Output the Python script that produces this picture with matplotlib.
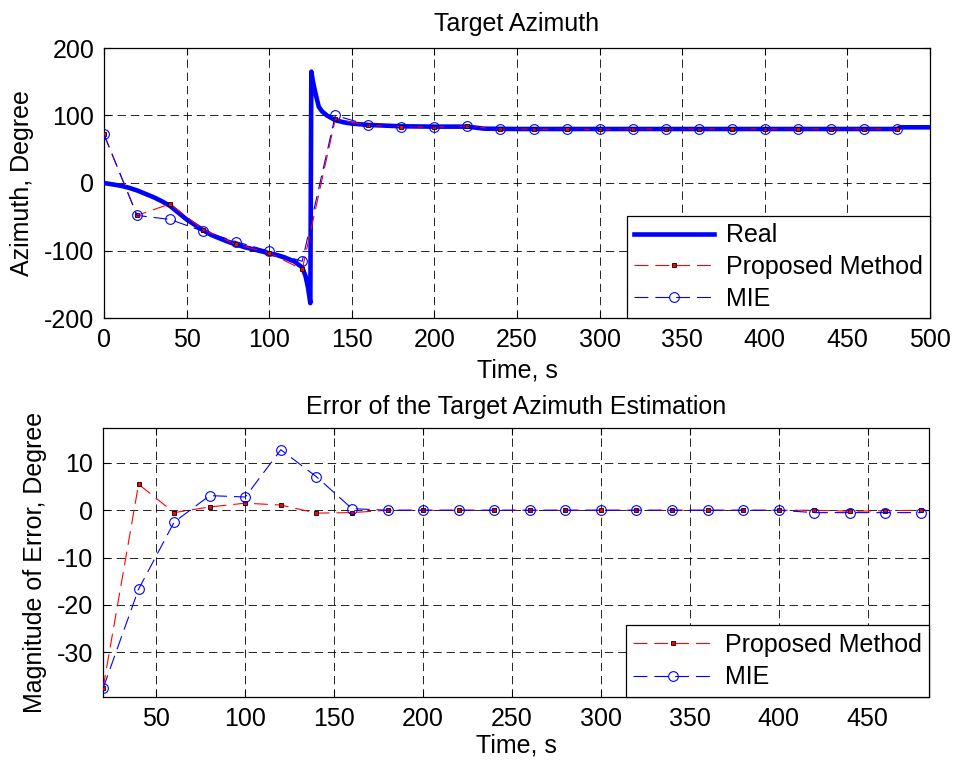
import matplotlib
matplotlib.use("Agg")
import matplotlib.pyplot as plt
import numpy as np

plt.rcParams['font.family'] = ['Liberation Sans', 'DejaVu Sans']
plt.rcParams['font.size'] = 18
plt.rcParams['lines.scale_dashes'] = False
plt.rcParams['axes.unicode_minus'] = False

# ---------------- data ----------------
t_est = [0, 20, 40, 60, 80, 100, 120, 140, 160, 180, 200, 220, 240, 260, 280,
         300, 320, 340, 360, 380, 400, 420, 440, 460, 480]
az_prop = [72, -48, -31, -69, -91, -103.5, -128, 94.5, 85.5, 83, 83, 84, 79.5,
           80, 79.5, 79.5, 80, 80, 80, 80, 80, 80, 80, 80, 80]
az_mie = [72, -48, -54, -71.5, -87, -101, -116, 100, 86, 83, 83, 84, 79.5,
          80, 79.5, 79.5, 80, 80, 80, 80, 80, 80, 80, 80, 80]

real_t = [0, 5, 10, 15, 20, 25, 30, 35, 40, 45, 50, 55, 60, 65, 70, 75, 80, 85,
          90, 95, 100, 105, 110, 115, 120, 122, 123.5, 124.9, 125.5, 126.5, 128,
          130, 132, 135, 140, 145, 150, 160, 170, 180, 200, 220, 225, 230, 250,
          300, 350, 400, 450, 480, 482, 500]
real_az = [0, -2, -4, -7, -11, -16, -21, -27, -34, -44, -54, -62, -70, -77, -82,
           -87, -91, -95, -98, -101, -104, -107, -111, -116, -125, -138, -155,
           -178, 165, 150, 133, 113, 106, 100, 93, 90, 88, 86, 85, 84, 83.5, 83.5,
           82, 80.5, 80, 80, 80, 80, 80, 80, 82.5, 82.5]

t_err = [20, 40, 60, 80, 100, 120, 140, 160, 180, 200, 220, 240, 260, 280, 300,
         320, 340, 360, 380, 400, 420, 440, 460, 480]
err_prop = [-37.7, 5.5, -0.5, 0.7, 1.5, 1.1, -0.6, -0.5, 0, 0, 0, 0, 0, 0, 0,
            0, 0, 0, 0, 0, 0, -0.2, -0.1, 0]
err_mie = [-37.7, -16.7, -2.5, 3.1, 2.8, 12.8, 7.1, 0.35, 0, 0, 0, 0, 0, 0, 0,
           0, 0, 0, 0, 0, -0.5, -0.5, -0.5, -0.5]

top_xticks = [0, 50, 100, 150, 200, 250, 300, 350, 400, 450, 500]
top_yticks = [-200, -100, 0, 100, 200]
bot_xticks = [50, 100, 150, 200, 250, 300, 350, 400, 450]
bot_yticks = [-30, -20, -10, 0, 10]

# ---------------- figure ----------------
fig = plt.figure(figsize=(9.54, 7.63), dpi=100)
ax1 = fig.add_axes([104/954, 1-318/763, 826/954, 270/763])
ax2 = fig.add_axes([103/954, 1-697/763, 826/954, 269/763])

dash = (0, (10, 5))
grid_dash = (0, (6, 3.5))
FS = 18

def style(ax):
    ax.tick_params(direction='in', length=5, width=0.8, top=True, right=True,
                   pad=7, labelsize=FS)
    for s in ax.spines.values():
        s.set_linewidth(0.9)
    ax.grid(True, color='black', linestyle=grid_dash, linewidth=0.6)
    ax.set_axisbelow(True)

# top
ax1.plot(real_t, real_az, color=(0, 0, 1), linewidth=3.3, label='Real', zorder=3)
ax1.plot(t_est, az_prop, color='red', linestyle=dash, linewidth=0.8,
         marker='s', markersize=3.5, markerfacecolor='red',
         markeredgecolor='black', markeredgewidth=0.6,
         label='Proposed Method', zorder=4)
ax1.plot(t_est, az_mie, color=(0, 0, 1), linestyle=dash, linewidth=0.8,
         marker='o', markersize=7, markerfacecolor='none',
         markeredgecolor=(0, 0, 1), markeredgewidth=0.8,
         label='MIE', zorder=4)
ax1.set_xlim(0, 500)
ax1.set_ylim(-200, 200)
ax1.set_xticks(top_xticks)
ax1.set_yticks(top_yticks)
style(ax1)
ax1.set_title('Target Azimuth', fontsize=FS, pad=12)
ax1.set_xlabel('Time, s', fontsize=FS)
ax1.set_ylabel('Azimuth, Degree', fontsize=FS)
ax1.xaxis.label.set_va('center')
ax1.yaxis.label.set_va('center')
ax1.xaxis.set_label_coords(0.5, (318-370)/270)
ax1.yaxis.set_label_coords((22-104)/826, 0.5)
leg1 = ax1.legend(loc='lower right', borderaxespad=0, fancybox=False,
                  edgecolor='black', framealpha=1, handlelength=3.2,
                  handletextpad=0.45, labelspacing=0.3, borderpad=0.3,
                  fontsize=FS)
leg1.get_frame().set_linewidth(0.9)

# bottom
ax2.plot(t_err, err_prop, color='red', linestyle=dash, linewidth=0.8,
         marker='s', markersize=3.5, markerfacecolor='red',
         markeredgecolor='black', markeredgewidth=0.6,
         label='Proposed Method', zorder=4)
ax2.plot(t_err, err_mie, color=(0, 0, 1), linestyle=dash, linewidth=0.8,
         marker='o', markersize=7, markerfacecolor='none',
         markeredgecolor=(0, 0, 1), markeredgewidth=0.8,
         label='MIE', zorder=4)
ax2.set_xlim(20, 484.5)
ax2.set_ylim(-39.5, 17.4)
ax2.set_xticks(bot_xticks)
ax2.set_yticks(bot_yticks)
style(ax2)
ax2.set_title('Error of the Target Azimuth Estimation', fontsize=FS, pad=10)
ax2.set_xlabel('Time, s', fontsize=FS)
ax2.set_ylabel('Magnitude of Error, Degree', fontsize=FS)
ax2.xaxis.label.set_va('center')
ax2.yaxis.label.set_va('center')
ax2.xaxis.set_label_coords(0.5, (697-745)/269)
ax2.yaxis.set_label_coords((35-103)/826, 0.5)
leg2 = ax2.legend(loc='lower right', borderaxespad=0, fancybox=False,
                  edgecolor='black', framealpha=1, handlelength=3.2,
                  handletextpad=0.45, labelspacing=0.35, borderpad=0.3,
                  fontsize=FS)
leg2.get_frame().set_linewidth(0.9)

fig.savefig('out.png', dpi=100)
